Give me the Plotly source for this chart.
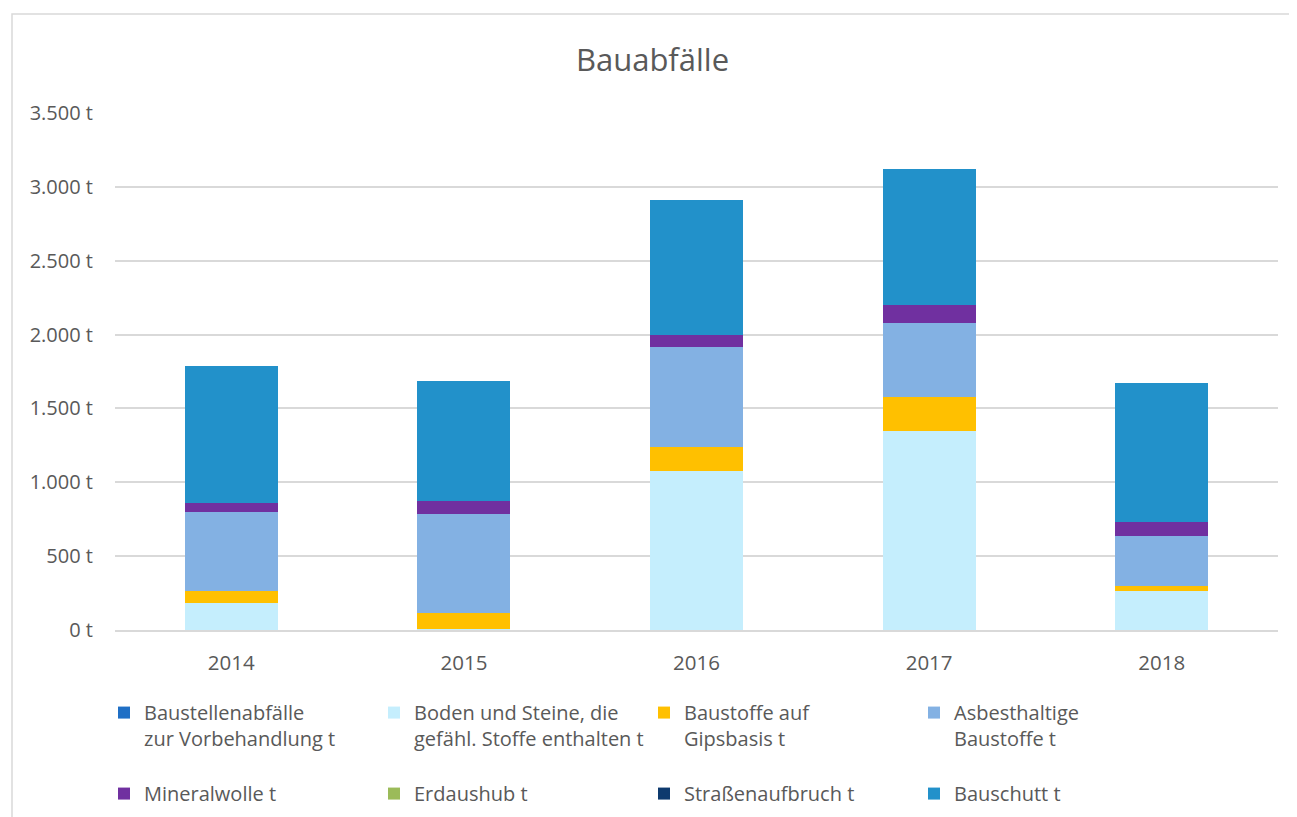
import plotly.graph_objects as go

years = ["2014", "2015", "2016", "2017", "2018"]

baustellen = [0, 0, 0, 0, 0]
boden = [180, 10, 1078, 1347, 262]
gips = [84, 105, 159, 228, 36]
asbest = [537, 668, 681, 501, 338]
mineralwolle = [61, 88, 81, 122, 93]
erdaushub = [0, 0, 0, 0, 0]
strassen = [0, 0, 0, 0, 0]
bauschutt = [925, 815, 912, 923, 941]

series = [
    ("Baustellenabfälle<br>zur Vorbehandlung t<br>\u00a0", baustellen, "#1F6FC5"),
    ("Boden und Steine, die<br>gefähl. Stoffe enthalten t<br>\u00a0", boden, "#C5EEFD"),
    ("Baustoffe auf<br>Gipsbasis t<br>\u00a0", gips, "#FFC000"),
    ("Asbesthaltige<br>Baustoffe t<br>\u00a0", asbest, "#83B1E3"),
    ("Mineralwolle t", mineralwolle, "#7030A0"),
    ("Erdaushub t", erdaushub, "#9BBB59"),
    ("Straßenaufbruch t", strassen, "#0E3A6E"),
    ("Bauschutt t", bauschutt, "#2291CA"),
]

yticks = [0, 500, 1000, 1500, 2000, 2500, 3000, 3500]
yticktext = ["0 t", "500 t", "1.000 t", "1.500 t", "2.000 t", "2.500 t", "3.000 t", "3.500 t"]

fig = go.Figure()
for name, vals, col in series:
    fig.add_trace(go.Bar(x=years, y=vals, name=name, marker=dict(color=col, line=dict(width=0))))

W, H = 1289, 809
L, T, R, B = 107, 105, 19, 187
PW, PH = W - L - R, H - T - B

FONT = "'Open Sans', sans-serif"
fig.update_layout(
    width=W, height=H,
    barmode="stack", bargap=0.6,
    paper_bgcolor="white", plot_bgcolor="white",
    margin=dict(l=L, r=R, t=T, b=B, autoexpand=False),
    font=dict(family=FONT, color="#595959", size=20),
    title=dict(text="Bauabfälle", x=0.5, xanchor="center", y=1 - 52 / H, yanchor="middle",
               font=dict(size=31, color="#595959", family=FONT)),
    xaxis=dict(showgrid=False, showline=True, linecolor="#D9D9D9", linewidth=1.5,
               tickfont=dict(size=20.5, color="#595959"), ticks="", ticklabelstandoff=14),
    yaxis=dict(range=[0, 3500], tickvals=yticks, ticktext=yticktext, showgrid=True,
               gridcolor="#D9D9D9", gridwidth=1.5, zeroline=False, showline=False,
               tickfont=dict(size=20, color="#595959"), ticklabelstandoff=21),
    legend=dict(orientation="h", x=(96 - L) / PW, xanchor="left", y=-0.122, yanchor="top",
                traceorder="normal", entrywidth=225, entrywidthmode="pixels", valign="top",
                font=dict(size=20, color="#595959", family=FONT), itemclick=False),
    shapes=[dict(type="rect", xref="paper", yref="paper",
                 x0=(4 - L) / PW, x1=1.2, y0=-0.6, y1=1 + (T - 6) / PH,
                 line=dict(color="#D9D9D9", width=1.5), fillcolor="rgba(0,0,0,0)", layer="below")],
)

fig.write_html("out.html")
